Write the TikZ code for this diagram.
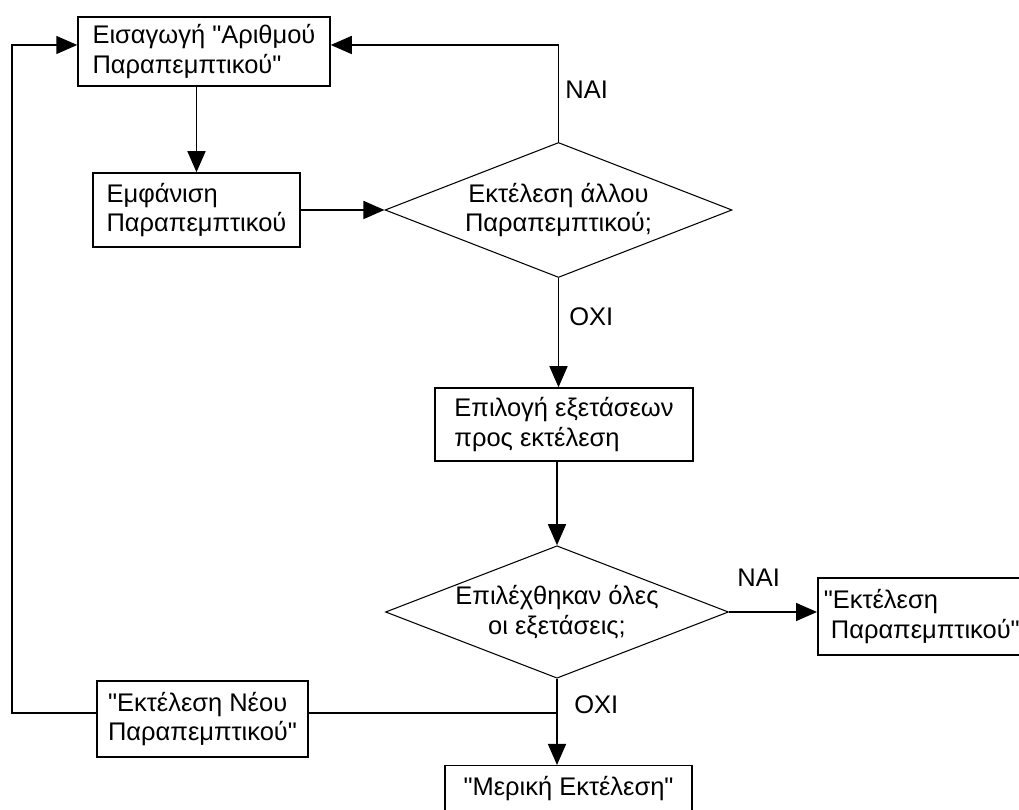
\documentclass[tikz,border=0pt]{standalone}
\usepackage{fontspec}
\setmainfont{Liberation Sans}[Ligatures=TeXOff]
\usepackage{tikz}
\usetikzlibrary{shapes.geometric, positioning, arrows.meta, calc}
\tikzset{
  block/.style={rectangle, draw=black, line width=0.85pt, align=left, inner sep=0pt, font=\fontsize{14.5}{17}\selectfont},
  decision/.style={diamond, aspect=2.57, draw=black, line width=0.6pt, inner sep=0pt, align=center, font=\fontsize{14.5}{17}\selectfont},
  answer/.style={anchor=west, inner sep=0pt, font=\fontsize{14.5}{17}\selectfont},
  arrow/.style={line width=0.85pt, -{Triangle[length=0.42cm, width=0.36cm]}},
  line/.style={line width=0.85pt}
}

\begin{document}
\begin{tikzpicture}
        \useasboundingbox (0,0) rectangle (20.38,16.2);

        % Bloques
        \node[block, minimum width=5.04cm, minimum height=1.38cm] (input) at (4.08,15.17) {Εισαγωγή "Αριθμού\\Παραπεμπτικού"};
        \node[block, minimum width=4.14cm, minimum height=1.48cm] (show) at (3.93,12.0) {Εμφάνιση\\Παραπεμπτικού};
        \node[decision, minimum width=6.94cm, minimum height=2.7cm] (other) at (11.17,12.0) {Εκτέλεση άλλου\\Παραπεμπτικού;};
        \node[block, minimum width=5.16cm, minimum height=1.46cm] (select) at (11.28,7.71) {Επιλογή εξετάσεων\\προς εκτέλεση};
        \node[decision, minimum width=6.86cm, minimum height=2.56cm] (all) at (11.14,3.96) {Επιλέχθηκαν όλες\\οι εξετάσεις;};
        \node[block, text width=4.6cm, inner xsep=0.12cm, minimum height=1.54cm, anchor=west] (full) at (16.34,3.87) {"Εκτέλεση\\\hspace*{0.28em}Παραπεμπτικού"};
        \node[block, minimum width=4.22cm, minimum height=1.52cm] (new) at (4.05,1.82) {"Εκτέλεση Νέου\\Παραπεμπτικού"};
        \node[block, minimum width=4.94cm, minimum height=0.92cm, anchor=north] (partial) at (11.37,0.9) {"Μερική Εκτέλεση"};

        % Respuestas
        \node[answer] (yes1) at (11.3,14.4) {ΝΑΙ};
        \node[answer] (no1) at (11.38,9.86) {ΟΧΙ};
        \node[answer] (yes2) at (14.74,4.64) {ΝΑΙ};
        \node[answer] (no2) at (11.48,2.1) {ΟΧΙ};

        % Puntos de giro
        \coordinate (yesTurn) at (11.17,15.3);
        \coordinate (noJoin) at (11.14,1.94);
        \coordinate (backLow) at (0.24,1.94);
        \coordinate (backHigh) at (0.24,15.3);

        % Flechas
        \draw[arrow] (input.south -| show.north) -- (show.north);
        \draw[arrow] (show.east) -- (other.west);
        \draw[arrow] (other.north) -- (yesTurn) -- (input.east |- yesTurn);
        \draw[arrow] (other.south) -- (other.south |- select.north);
        \draw[arrow] (select.south -| all.north) -- (all.north);
        \draw[arrow] (all.east) -- (full.west |- all.east);
        \draw[arrow] (all.south) -- (all.south |- partial.north);
        \draw[line] (noJoin) -- (new.east |- noJoin);
        \draw[arrow] (new.west |- noJoin) -- (backLow) -- (backHigh) -- (input.west |- yesTurn);
    \end{tikzpicture}
\end{document}
